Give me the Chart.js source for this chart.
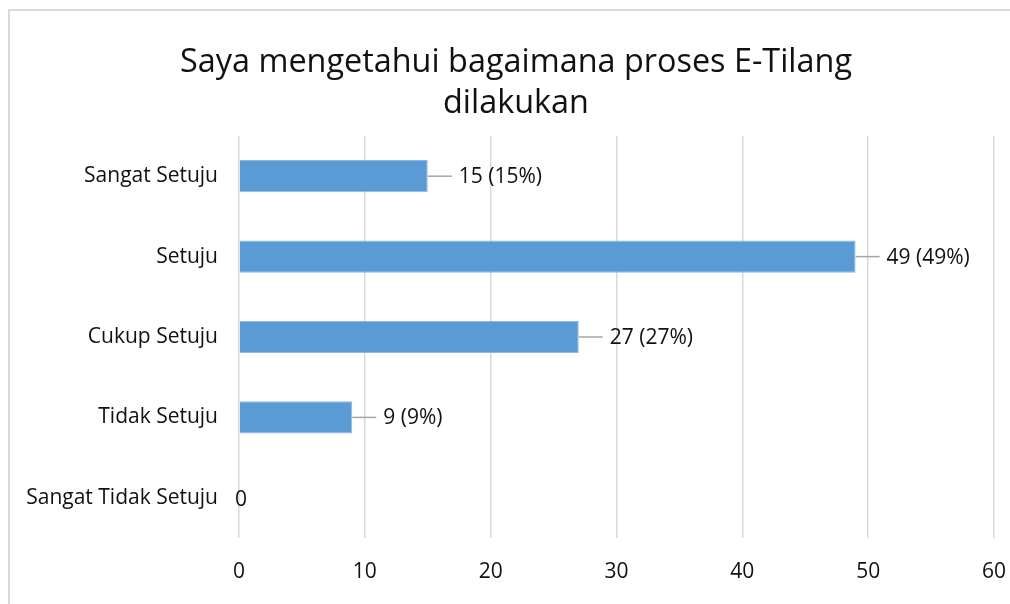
<!DOCTYPE html>
<html>
<head>
<meta charset="utf-8">
<script src="https://cdn.jsdelivr.net/npm/chart.js@4/dist/chart.umd.min.js"></script>
<style>
html,body{margin:0;padding:0;background:#fff;overflow:hidden;}
canvas{position:absolute;left:0;top:0;}
</style>
</head>
<body>
<canvas id="c" width="1010" height="604"></canvas>
<script>
const titleLines = ["Saya mengetahui bagaimana proses E-Tilang", "dilakukan"];
const categories = ["Sangat Setuju", "Setuju", "Cukup Setuju", "Tidak Setuju", "Sangat Tidak Setuju"];
const values = [15, 49, 27, 9, 0];
const percents = ["15%", "49%", "27%", "9%", ""];
const xTicks = [0, 10, 20, 30, 40, 50, 60];

const FONT = "'Open Sans', 'Noto Sans', sans-serif";

const framePlugin = {
  id: 'frame',
  afterLayout(chart) {
    const t = chart.titleBlock;
    if (t) { t.left = 38; t.right = 994; }
  },
  beforeDraw(chart) {
    const ctx = chart.ctx;
    ctx.save();
    ctx.fillStyle = '#ffffff';
    ctx.fillRect(0, 0, chart.width, chart.height);
    ctx.strokeStyle = '#d9d9d9';
    ctx.lineWidth = 2;
    ctx.beginPath();
    ctx.moveTo(9, chart.height);
    ctx.lineTo(9, 10);
    ctx.lineTo(chart.width, 10);
    ctx.stroke();
    ctx.restore();
  }
};

const labelPlugin = {
  id: 'leaderLabels',
  afterDatasetsDraw(chart) {
    const ctx = chart.ctx;
    const meta = chart.getDatasetMeta(0);
    ctx.save();
    ctx.font = "21px " + FONT;
    ctx.fillStyle = "#111111";
    ctx.textBaseline = "middle";
    meta.data.forEach((bar, i) => {
      const v = values[i];
      const y = bar.y;
      const x = bar.x;
      const txt = v === 0 ? String(v) : v + " (" + percents[i] + ")";
      if (v === 0) {
        ctx.textAlign = "center";
        ctx.fillText(txt, x + 2, y + 2);
      } else {
        ctx.strokeStyle = "#a6a6a6";
        ctx.lineWidth = 1.5;
        ctx.beginPath();
        ctx.moveTo(x, y);
        ctx.lineTo(x + 24, y);
        ctx.stroke();
        ctx.textAlign = "left";
        ctx.fillText(txt, x + 31, y + 1);
      }
    });
    ctx.restore();
  }
};

new Chart(document.getElementById('c'), {
  type: 'bar',
  data: {
    labels: categories,
    datasets: [{
      data: values,
      backgroundColor: '#5B9BD5',
      borderColor: '#8FB8E2',
      borderWidth: 1,
      categoryPercentage: 1.0,
      barPercentage: 0.4
    }]
  },
  options: {
    indexAxis: 'y',
    responsive: false,
    animation: false,
    devicePixelRatio: 1,
    layout: { padding: { top: 10, left: 0, right: 16, bottom: 0 } },
    plugins: {
      legend: { display: false },
      tooltip: { enabled: false },
      title: {
        display: true,
        text: titleLines,
        color: '#111111',
        font: { family: FONT, size: 32.4, weight: 'normal', lineHeight: 1.25 },
        padding: { top: 33, bottom: 12 }
      }
    },
    scales: {
      x: {
        min: 0, max: 60,
        afterBuildTicks(scale) { scale.ticks = xTicks.map(v => ({ value: v })); },
        grid: { color: '#d9d9d9', lineWidth: 1.5, drawTicks: false },
        border: { display: false },
        ticks: { color: '#111111', font: { family: FONT, size: 21 }, padding: 21, maxRotation: 0 },
        afterFit(scale) { scale.height = 66; scale.paddingRight = 0; scale.paddingLeft = 0; }
      },
      y: {
        grid: { display: false, drawTicks: false },
        border: { display: false },
        ticks: { color: '#111111', font: { family: FONT, size: 21 }, padding: 21 },
        afterFit(scale) { scale.width = 239; }
      }
    }
  },
  plugins: [framePlugin, labelPlugin]
});
</script>
</body>
</html>
